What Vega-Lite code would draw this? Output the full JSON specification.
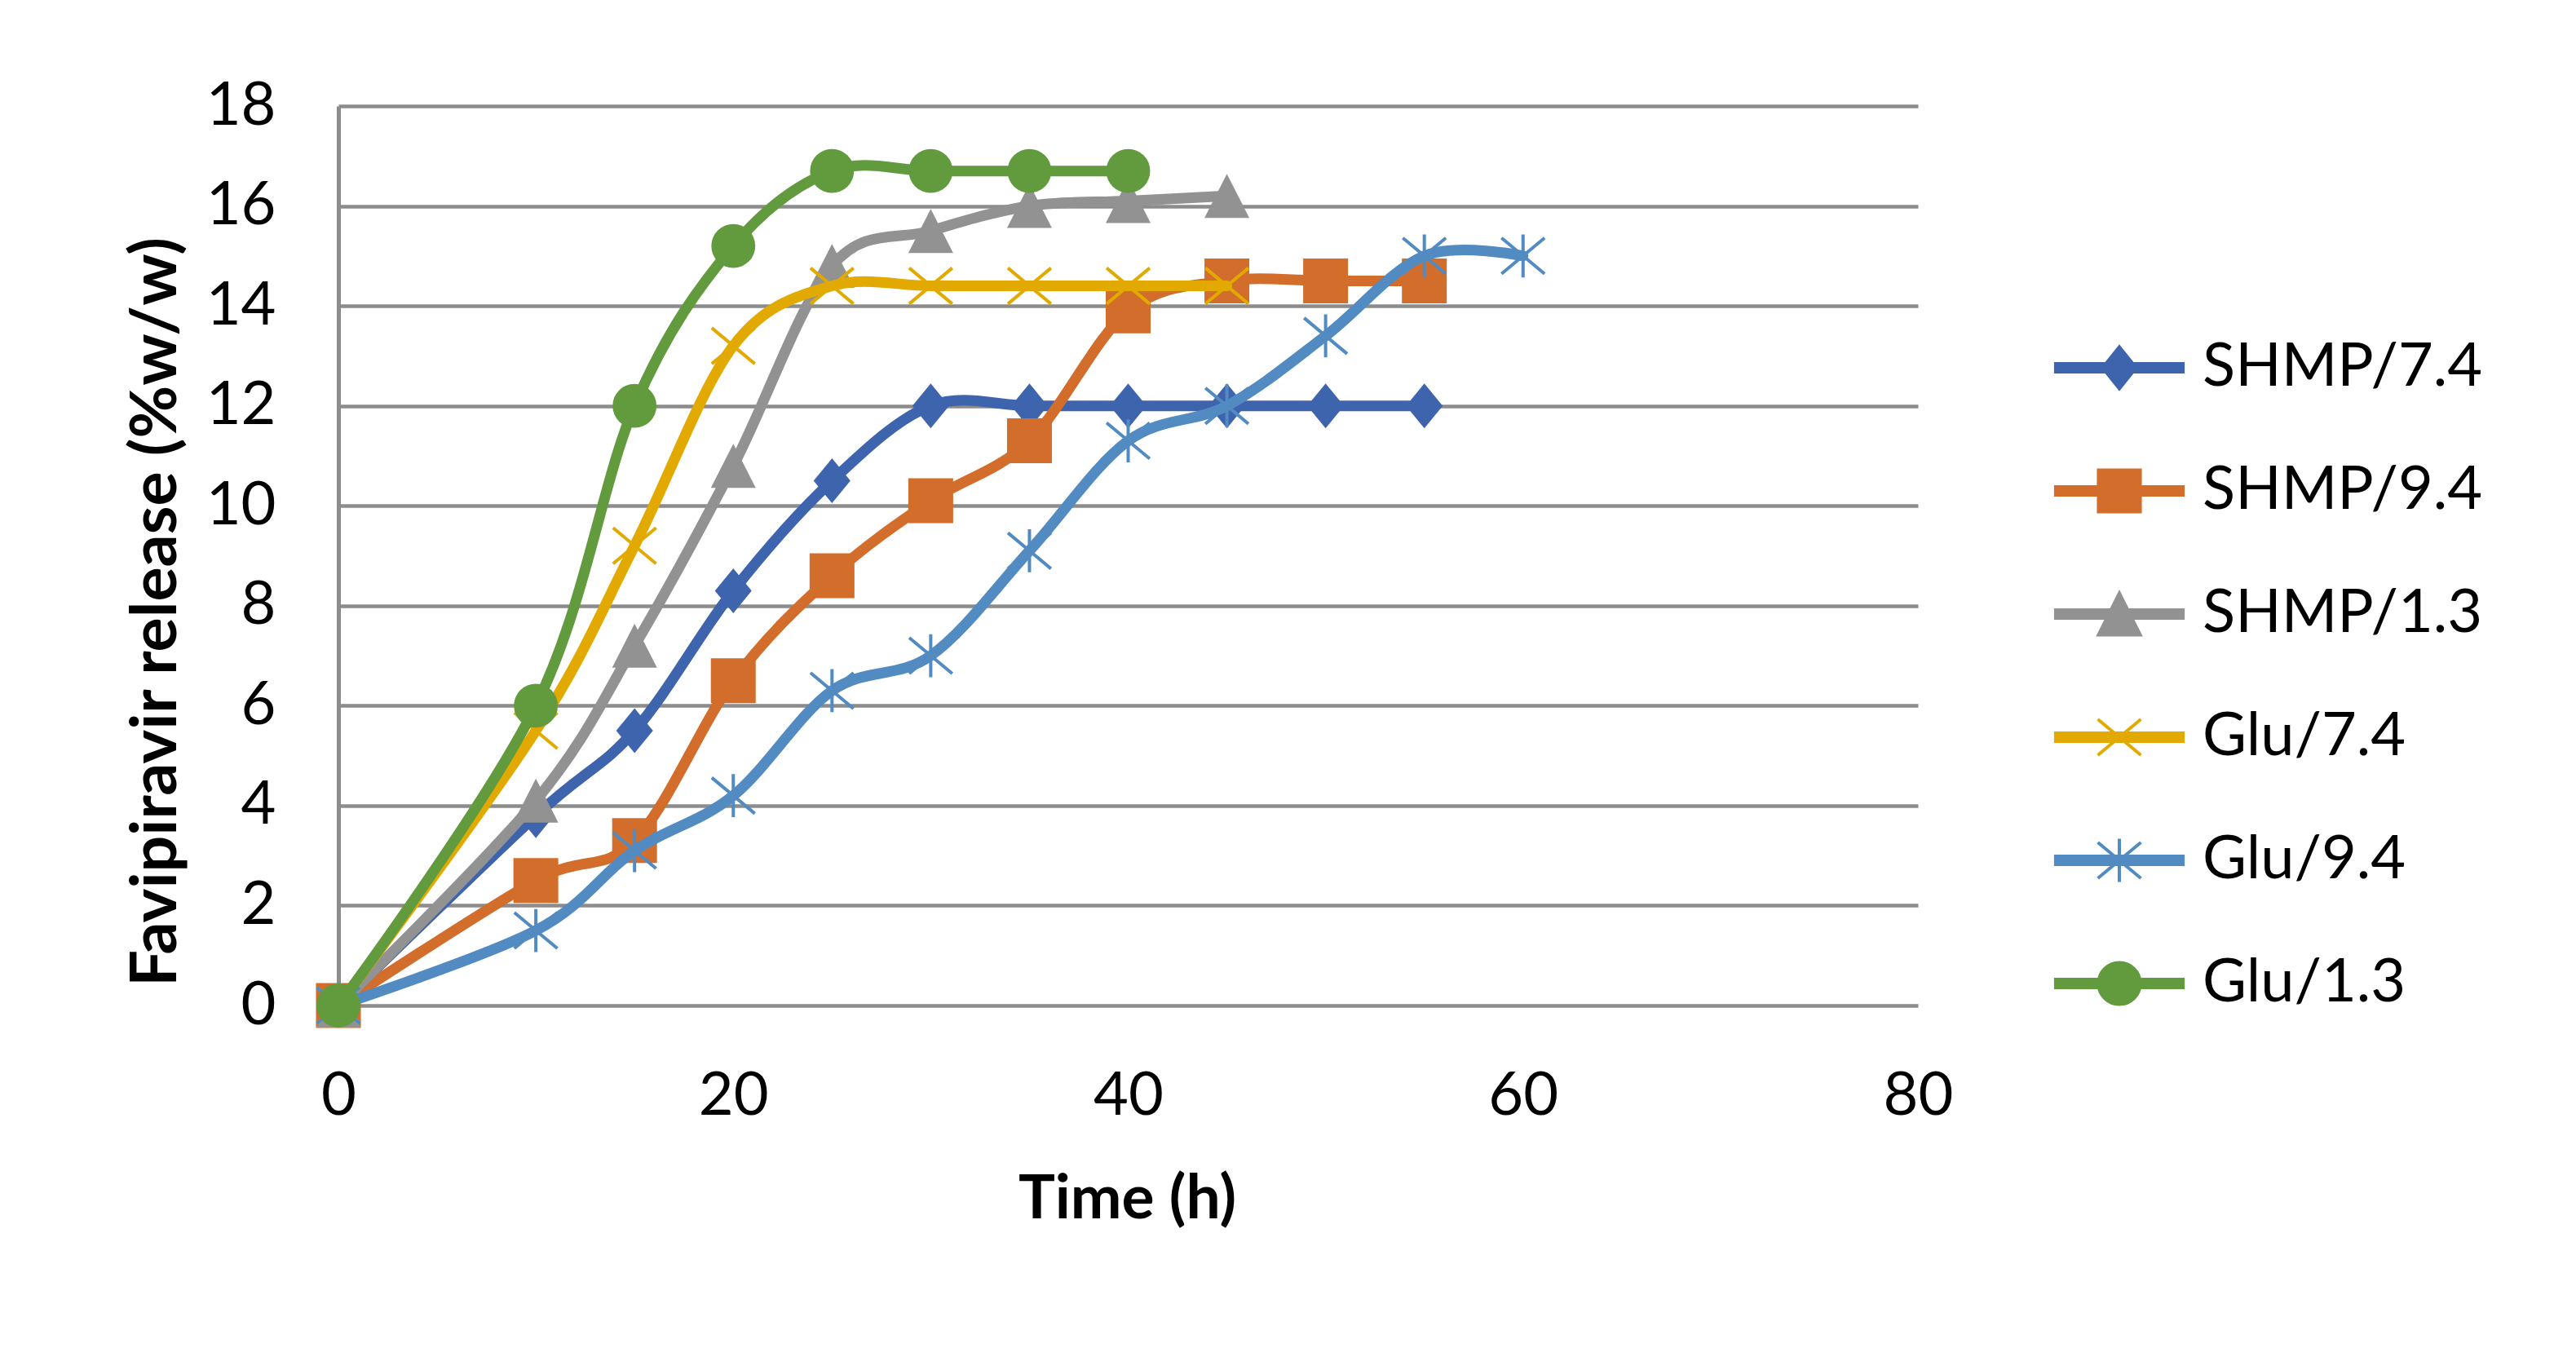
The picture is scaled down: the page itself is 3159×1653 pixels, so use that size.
{
  "$schema": "https://vega.github.io/schema/vega-lite/v6.json",
  "width": 1937,
  "height": 1103,
  "autosize": {"type": "none"},
  "padding": {"left": 415, "top": 130, "right": 807, "bottom": 420},
  "background": "white",
  "config": {
    "font": "Lato",
    "view": {"stroke": null},
    "axis": {
      "labelFont": "Lato",
      "labelFontSize": 74,
      "labelColor": "#000000",
      "titleFont": "Lato",
      "titleFontWeight": "bold",
      "titleFontSize": 75,
      "titleColor": "#000000",
      "ticks": false,
      "tickSize": 0,
      "labelFlush": false,
      "labelOverlap": false
    }
  },
  "data": {
    "values": [
      {"series": "SHMP/7.4", "time": 0, "release": 0},
      {"series": "SHMP/7.4", "time": 10, "release": 3.8},
      {"series": "SHMP/7.4", "time": 15, "release": 5.5},
      {"series": "SHMP/7.4", "time": 20, "release": 8.3},
      {"series": "SHMP/7.4", "time": 25, "release": 10.5},
      {"series": "SHMP/7.4", "time": 30, "release": 12.0},
      {"series": "SHMP/7.4", "time": 35, "release": 12.0},
      {"series": "SHMP/7.4", "time": 40, "release": 12.0},
      {"series": "SHMP/7.4", "time": 45, "release": 12.0},
      {"series": "SHMP/7.4", "time": 50, "release": 12.0},
      {"series": "SHMP/7.4", "time": 55, "release": 12.0},
      {"series": "SHMP/9.4", "time": 0, "release": 0},
      {"series": "SHMP/9.4", "time": 10, "release": 2.5},
      {"series": "SHMP/9.4", "time": 15, "release": 3.3},
      {"series": "SHMP/9.4", "time": 20, "release": 6.5},
      {"series": "SHMP/9.4", "time": 25, "release": 8.6},
      {"series": "SHMP/9.4", "time": 30, "release": 10.1},
      {"series": "SHMP/9.4", "time": 35, "release": 11.3},
      {"series": "SHMP/9.4", "time": 40, "release": 13.9},
      {"series": "SHMP/9.4", "time": 45, "release": 14.5},
      {"series": "SHMP/9.4", "time": 50, "release": 14.5},
      {"series": "SHMP/9.4", "time": 55, "release": 14.5},
      {"series": "SHMP/1.3", "time": 0, "release": 0},
      {"series": "SHMP/1.3", "time": 10, "release": 4.1},
      {"series": "SHMP/1.3", "time": 15, "release": 7.2},
      {"series": "SHMP/1.3", "time": 20, "release": 10.8},
      {"series": "SHMP/1.3", "time": 25, "release": 14.8},
      {"series": "SHMP/1.3", "time": 30, "release": 15.5},
      {"series": "SHMP/1.3", "time": 35, "release": 16.0},
      {"series": "SHMP/1.3", "time": 40, "release": 16.1},
      {"series": "SHMP/1.3", "time": 45, "release": 16.2},
      {"series": "Glu/7.4", "time": 0, "release": 0},
      {"series": "Glu/7.4", "time": 10, "release": 5.5},
      {"series": "Glu/7.4", "time": 15, "release": 9.2},
      {"series": "Glu/7.4", "time": 20, "release": 13.2},
      {"series": "Glu/7.4", "time": 25, "release": 14.4},
      {"series": "Glu/7.4", "time": 30, "release": 14.4},
      {"series": "Glu/7.4", "time": 35, "release": 14.4},
      {"series": "Glu/7.4", "time": 40, "release": 14.4},
      {"series": "Glu/7.4", "time": 45, "release": 14.4},
      {"series": "Glu/9.4", "time": 0, "release": 0},
      {"series": "Glu/9.4", "time": 10, "release": 1.5},
      {"series": "Glu/9.4", "time": 15, "release": 3.1},
      {"series": "Glu/9.4", "time": 20, "release": 4.2},
      {"series": "Glu/9.4", "time": 25, "release": 6.3},
      {"series": "Glu/9.4", "time": 30, "release": 7.0},
      {"series": "Glu/9.4", "time": 35, "release": 9.1},
      {"series": "Glu/9.4", "time": 40, "release": 11.3},
      {"series": "Glu/9.4", "time": 45, "release": 12.0},
      {"series": "Glu/9.4", "time": 50, "release": 13.4},
      {"series": "Glu/9.4", "time": 55, "release": 15.0},
      {"series": "Glu/9.4", "time": 60, "release": 15.0},
      {"series": "Glu/1.3", "time": 0, "release": 0},
      {"series": "Glu/1.3", "time": 10, "release": 6.0},
      {"series": "Glu/1.3", "time": 15, "release": 12.0},
      {"series": "Glu/1.3", "time": 20, "release": 15.2},
      {"series": "Glu/1.3", "time": 25, "release": 16.7},
      {"series": "Glu/1.3", "time": 30, "release": 16.7},
      {"series": "Glu/1.3", "time": 35, "release": 16.7},
      {"series": "Glu/1.3", "time": 40, "release": 16.7}
    ]
  },
  "encoding": {
    "x": {
      "field": "time",
      "type": "quantitative",
      "scale": {"domain": [0, 80], "nice": false, "zero": false},
      "axis": {
        "values": [0, 20, 40, 60, 80],
        "title": "Time (h)",
        "grid": false,
        "domain": false,
        "labelPadding": 111,
        "labelBaseline": "middle",
        "titleX": 967,
        "titleY": 237,
        "titleBaseline": "middle",
        "titleAlign": "center"
      }
    },
    "y": {
      "field": "release",
      "type": "quantitative",
      "scale": {"domain": [0, 18], "nice": false, "zero": false},
      "axis": {
        "values": [0, 2, 4, 6, 8, 10, 12, 14, 16, 18],
        "title": "Favipiravir release (%w/w)",
        "titleFontSize": 79,
        "grid": true,
        "gridColor": "#8C8C8C",
        "gridWidth": 4.5,
        "gridOpacity": 1,
        "domain": true,
        "domainColor": "#8C8C8C",
        "domainWidth": 5,
        "labelPadding": 77,
        "titleX": -224,
        "titleY": 620,
        "titleAngle": 270,
        "titleBaseline": "middle",
        "titleAlign": "center"
      }
    },
    "color": {
      "field": "series",
      "type": "nominal",
      "scale": {
        "domain": ["SHMP/7.4", "SHMP/9.4", "SHMP/1.3", "Glu/7.4", "Glu/9.4", "Glu/1.3"],
        "range": ["#3E64AD", "#D26D2B", "#929292", "#E2AA00", "#528BC1", "#629A3E"]
      },
      "legend": {
        "orient": "none",
        "legendX": 2147,
        "legendY": 284,
        "title": null,
        "padding": 0,
        "labelFont": "Lato",
        "labelFontSize": 74,
        "labelColor": "#000000",
        "labelLimit": 0,
        "labelOffset": 65,
        "rowPadding": 77,
        "symbolSize": 3025,
        "symbolStrokeWidth": 4,
        "encode": {
          "symbols": {
            "update": {
              "shape": {"signal": "datum.value === 'SHMP/7.4' ? 'M-2.84,-0.18L2.84,-0.18L2.84,0.18L-2.84,0.18ZM0,-0.93L0.745,0L0,0.93L-0.745,0Z' : datum.value === 'SHMP/9.4' ? 'M-2.84,-0.18L2.84,-0.18L2.84,0.18L-2.84,0.18ZM-0.93,-0.93L0.93,-0.93L0.93,0.93L-0.93,0.93Z' : datum.value === 'SHMP/1.3' ? 'M-2.84,-0.18L2.84,-0.18L2.84,0.18L-2.84,0.18ZM0,-0.93L0.93,0.93L-0.93,0.93Z' : datum.value === 'Glu/7.4' ? 'M-2.84,-0.18L2.84,-0.18L2.84,0.18L-2.84,0.18ZM-0.96,-0.8L0.96,0.8M0.96,-0.8L-0.96,0.8' : datum.value === 'Glu/9.4' ? 'M-2.84,-0.18L2.84,-0.18L2.84,0.18L-2.84,0.18ZM-0.96,-0.8L0.96,0.8M0.96,-0.8L-0.96,0.8M0,-0.96L0,0.96' : 'M-2.84,-0.18L2.84,-0.18L2.84,0.18L-2.84,0.18ZM-0.93,0A0.93,0.93,0,1,1,0.93,0A0.93,0.93,0,1,1,-0.93,0Z'"},
              "fill": {"scale": "color", "field": "value"},
              "stroke": {"scale": "color", "field": "value"},
              "strokeWidth": {"value": 4},
              "opacity": {"value": 1},
              "fillOpacity": {"value": 1},
              "strokeOpacity": {"value": 1}
            }
          }
        }
      }
    }
  },
  "layer": [
    {
      "transform": [{"filter": "datum.series === 'SHMP/7.4'"}],
      "layer": [
        {"mark": {"type": "line", "interpolate": "cardinal", "tension": 0, "strokeWidth": 13, "strokeCap": "round", "strokeJoin": "round"}},
        {"mark": {"type": "point", "shape": "M0,-1L0.82,0L0,1L-0.82,0Z", "filled": true, "size": 3025, "opacity": 1}}
      ]
    },
    {
      "transform": [{"filter": "datum.series === 'SHMP/9.4'"}],
      "layer": [
        {"mark": {"type": "line", "interpolate": "cardinal", "tension": 0, "strokeWidth": 13, "strokeCap": "round", "strokeJoin": "round"}},
        {"mark": {"type": "point", "shape": "square", "filled": true, "size": 3025, "opacity": 1}}
      ]
    },
    {
      "transform": [{"filter": "datum.series === 'SHMP/1.3'"}],
      "layer": [
        {"mark": {"type": "line", "interpolate": "cardinal", "tension": 0, "strokeWidth": 13, "strokeCap": "round", "strokeJoin": "round"}},
        {"mark": {"type": "point", "shape": "M0,-0.98L1,0.98L-1,0.98Z", "filled": true, "size": 3025, "opacity": 1}}
      ]
    },
    {
      "transform": [{"filter": "datum.series === 'Glu/7.4'"}],
      "layer": [
        {"mark": {"type": "line", "interpolate": "cardinal", "tension": 0, "strokeWidth": 13, "strokeCap": "round", "strokeJoin": "round"}},
        {"mark": {"type": "point", "shape": "M-0.96,-0.8L0.96,0.8M0.96,-0.8L-0.96,0.8", "filled": false, "strokeWidth": 4, "size": 3025, "opacity": 1}}
      ]
    },
    {
      "transform": [{"filter": "datum.series === 'Glu/9.4'"}],
      "layer": [
        {"mark": {"type": "line", "interpolate": "cardinal", "tension": 0, "strokeWidth": 13, "strokeCap": "round", "strokeJoin": "round"}},
        {"mark": {"type": "point", "shape": "M-0.96,-0.8L0.96,0.8M0.96,-0.8L-0.96,0.8M0,-0.96L0,0.96", "filled": false, "strokeWidth": 4, "size": 3025, "opacity": 1}}
      ]
    },
    {
      "transform": [{"filter": "datum.series === 'Glu/1.3'"}],
      "layer": [
        {"mark": {"type": "line", "interpolate": "cardinal", "tension": 0, "strokeWidth": 13, "strokeCap": "round", "strokeJoin": "round"}},
        {"mark": {"type": "point", "shape": "circle", "filled": true, "size": 2900, "opacity": 1}}
      ]
    }
  ]
}
